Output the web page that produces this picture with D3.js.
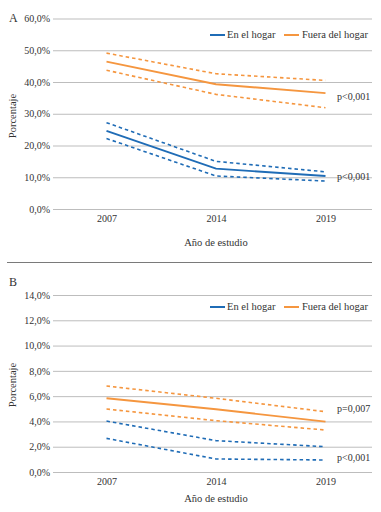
<!DOCTYPE html>
<html><head><meta charset="utf-8">
<script src="https://cdn.jsdelivr.net/npm/d3@7"></script>
<style>body{margin:0;background:#fff}svg{display:block}</style>
</head><body>
<svg id="c" width="381" height="512"></svg>
<script>
const years = ["2007","2014","2019"];
const seriesNames = ["En el hogar","Fuera del hogar"];
// Panel A (%)
const aHogar = [24.6, 12.7, 10.4];
const aHogarHi = [27.2, 15.0, 11.7];
const aHogarLo = [22.2, 10.4, 8.8];
const aFuera = [46.4, 39.3, 36.5];
const aFueraHi = [49.1, 42.6, 40.5];
const aFueraLo = [43.7, 36.1, 31.9];
const aTicks = [0,10,20,30,40,50,60];
const aPvals = ["p<0,001","p<0,001"];
// Panel B (%)
const bHogar = null; // solid line not drawn in the reference
const bHogarHi = [4.03, 2.48, 2.0];
const bHogarLo = [2.66, 1.03, 0.95];
const bFuera = [5.83, 4.96, 3.98];
const bFueraHi = [6.80, 5.83, 4.77];
const bFueraLo = [4.98, 4.06, 3.32];
const bTicks = [0,2,4,6,8,10,12,14];
const bPvals = ["p=0,007","p<0,001"];

const FONT = "Liberation Serif";
const BLUE = "#1f6cb6", ORANGE = "#f5963f";
const svg = d3.select("#c");
const fmt = v => d3.format(".1f")(v).replace(".", ",") + "%";

function panel(o){
  const g = svg.append("g");
  const x = d3.scalePoint().domain(years).range([106.5, 325.5]);
  const y = d3.scaleLinear().domain([0, o.max]).range([o.y0, o.yTop]);
  const ax = d3.axisLeft(y).tickValues(o.ticks).tickSize(-319).tickFormat(fmt).tickPadding(3);
  const ga = g.append("g").attr("transform","translate(53,0)").call(ax).attr("font-family",FONT);
  ga.select(".domain").remove();
  ga.selectAll(".tick line").attr("stroke","#bdbdbd").attr("stroke-width",1);
  ga.selectAll(".tick text").attr("font-size",10).attr("fill","#333").attr("font-family",FONT);
  const xa = d3.axisBottom(x).tickSize(0).tickPadding(0);
  const gx = g.append("g").attr("transform",`translate(0,${o.y0+6})`).call(xa).attr("font-family",FONT);
  gx.select(".domain").remove();
  gx.selectAll(".tick text").attr("font-size",10).attr("fill","#333").attr("dy","0.71em").attr("font-family",FONT);
  const T = (sel)=>sel.attr("font-family",FONT).attr("fill","#333");
  T(g.append("text")).attr("x",216).attr("y",o.titleY).attr("text-anchor","middle")
    .attr("font-size",10.5).text("Año de estudio");
  T(g.append("text")).attr("transform",`translate(16,${o.yLab}) rotate(-90)`)
    .attr("text-anchor","middle").attr("font-size",10.5).text("Porcentaje");
  T(g.append("text")).attr("x",9).attr("y",o.letterY).attr("font-size",12).text(o.letter);
  const line = d3.line().x((d,i)=>x(years[i])).y(d=>y(d));
  const draw = (vals,col,dash)=>{
    if(!vals) return;
    g.append("path").datum(vals).attr("d",line).attr("fill","none").attr("stroke",col)
      .attr("stroke-width", dash?1.6:1.9).attr("stroke-dasharray", dash?"3.5,3":null);
  };
  draw(o.fHi,ORANGE,true); draw(o.fLo,ORANGE,true); draw(o.f,ORANGE,false);
  draw(o.hHi,BLUE,true); draw(o.hLo,BLUE,true); draw(o.h,BLUE,false);
  const lg = g.append("g").attr("transform",`translate(0,${o.legY})`);
  [[210,BLUE,seriesNames[0],227],[284,ORANGE,seriesNames[1],302]].forEach(([lx,c,t,tx])=>{
    lg.append("line").attr("x1",lx).attr("x2",lx+15).attr("y1",0).attr("y2",0).attr("stroke",c).attr("stroke-width",2);
    T(lg.append("text")).attr("x",tx).attr("y",0).attr("dy","0.32em").attr("font-size",10.5).text(t);
  });
  o.pv.forEach((t,i)=>{
    T(g.append("text")).attr("x",337).attr("y",o.pY[i]).attr("dy","0.32em").attr("font-size",10).text(t);
  });
}

panel({max:60, y0:209, yTop:18.5, ticks:aTicks, titleY:246, yLab:116, letter:"A", letterY:22,
  h:aHogar, hHi:aHogarHi, hLo:aHogarLo, f:aFuera, fHi:aFueraHi, fLo:aFueraLo,
  legY:35, pv:aPvals, pY:[97,177]});

svg.append("line").attr("x1",7).attr("x2",372).attr("y1",262.5).attr("y2",262.5).attr("stroke","#7a7a7a").attr("stroke-width",1);

panel({max:14, y0:472, yTop:295, ticks:bTicks, titleY:502, yLab:385, letter:"B", letterY:286,
  h:bHogar, hHi:bHogarHi, hLo:bHogarLo, f:bFuera, fHi:bFueraHi, fLo:bFueraLo,
  legY:307, pv:bPvals, pY:[409,458]});
</script>
</body></html>
